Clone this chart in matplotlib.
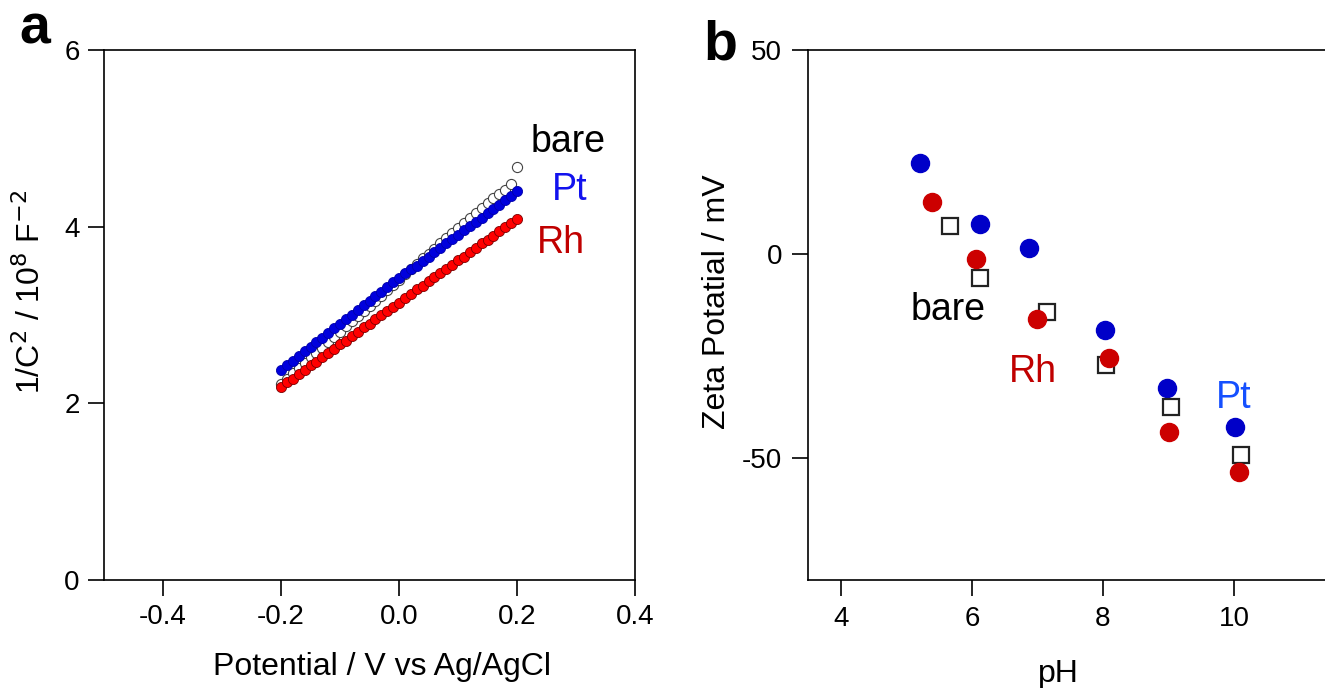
import matplotlib
matplotlib.use("Agg")
import matplotlib.pyplot as plt

plt.rcParams['font.family'] = ['Liberation Sans', 'DejaVu Sans']
plt.rcParams['axes.unicode_minus'] = False

# ---------------- Panel a data ----------------
potential = [-0.20, -0.19, -0.18, -0.17, -0.16, -0.15, -0.14, -0.13, -0.12, -0.11,
             -0.10, -0.09, -0.08, -0.07, -0.06, -0.05, -0.04, -0.03, -0.02, -0.01,
             0.00, 0.01, 0.02, 0.03, 0.04, 0.05, 0.06, 0.07, 0.08, 0.09,
             0.10, 0.11, 0.12, 0.13, 0.14, 0.15, 0.16, 0.17, 0.18, 0.19, 0.20]
inv_c2_bare = [2.22, 2.28, 2.34, 2.40, 2.46, 2.52, 2.57, 2.63, 2.69, 2.75,
               2.81, 2.87, 2.93, 2.99, 3.05, 3.10, 3.16, 3.22, 3.28, 3.34,
               3.40, 3.46, 3.52, 3.58, 3.64, 3.69, 3.75, 3.81, 3.87, 3.93,
               3.99, 4.04, 4.10, 4.16, 4.21, 4.27, 4.32, 4.37, 4.42, 4.48, 4.67]
inv_c2_pt = [2.38, 2.43, 2.48, 2.54, 2.59, 2.64, 2.69, 2.74, 2.80, 2.85,
             2.90, 2.95, 3.00, 3.06, 3.11, 3.16, 3.21, 3.26, 3.32, 3.37,
             3.42, 3.47, 3.52, 3.56, 3.61, 3.66, 3.71, 3.76, 3.81, 3.86,
             3.91, 3.96, 4.01, 4.05, 4.10, 4.15, 4.20, 4.25, 4.30, 4.35, 4.40]
inv_c2_rh = [2.19, 2.24, 2.28, 2.33, 2.38, 2.43, 2.47, 2.52, 2.57, 2.62,
             2.67, 2.71, 2.76, 2.81, 2.86, 2.90, 2.95, 3.00, 3.05, 3.09,
             3.14, 3.19, 3.24, 3.29, 3.33, 3.38, 3.43, 3.47, 3.52, 3.57,
             3.62, 3.66, 3.71, 3.76, 3.81, 3.85, 3.90, 3.95, 4.00, 4.04, 4.09]
a_xticks = [-0.4, -0.2, 0.0, 0.2, 0.4]
a_yticks = [0, 2, 4, 6]

# ---------------- Panel b data ----------------
ph_pt = [5.21, 6.12, 6.87, 8.03, 8.98, 10.02]
zeta_pt = [22.4, 7.2, 1.4, -18.8, -33.0, -42.5]
ph_rh = [5.39, 6.06, 7.00, 8.09, 9.01, 10.07]
zeta_rh = [12.6, -1.3, -16.0, -25.6, -43.8, -53.4]
ph_bare = [5.67, 6.12, 7.15, 8.05, 9.03, 10.10]
zeta_bare = [6.9, -6.0, -14.2, -27.3, -37.6, -49.3]
b_xticks = [4, 6, 8, 10]
b_yticks = [-50, 0, 50]

W, H = 1325, 688
fig = plt.figure(figsize=(W / 100, H / 100), dpi=100)

def frac(l, r, t, b):
    return [l / W, 1 - b / H, (r - l) / W, (b - t) / H]

tick_fs = 20
lab_fs = 23
txt_fs = 27

# ---------------- Panel a ----------------
ax = fig.add_axes(frac(104, 635, 50, 580))
ax.plot(potential, inv_c2_bare, 'o', ms=7.3, mfc='white', mec='#444444', mew=0.8, ls='none', zorder=2)
ax.plot(potential, inv_c2_pt, 'o', ms=7.3, mfc='#0000DD', mec='#0000AA', mew=0.6, ls='none', zorder=3)
ax.plot(potential, inv_c2_rh, 'o', ms=7.3, mfc='#FF0000', mec='#7a0000', mew=0.6, ls='none', zorder=4)
ax.set_xlim(-0.5, 0.4)
ax.set_ylim(0, 6)
ax.set_xticks(a_xticks)
ax.set_xticklabels([f"{v:.1f}" for v in a_xticks])
ax.set_yticks(a_yticks)
ax.tick_params(direction='out', length=11.5, width=1.2, labelsize=tick_fs, pad=6)
for s in ax.spines.values():
    s.set_linewidth(1.2)
ax.set_xlabel('Potential / V vs Ag/AgCl', fontsize=lab_fs)
ax.set_ylabel('1/C$^2$ / 10$^8$ F$^{-2}$', fontsize=lab_fs)
ax.xaxis.label.set_va('center')
ax.yaxis.label.set_va('center')
ax.xaxis.set_label_coords(0.524, -0.164)
ax.yaxis.set_label_coords(-0.139, 0.543)
ax.text(0.286, 4.96, 'bare', color='black', fontsize=txt_fs, ha='center', va='center')
ax.text(0.289, 4.42, 'Pt', color='#1212EE', fontsize=txt_fs, ha='center', va='center')
ax.text(0.274, 3.82, 'Rh', color='#C00000', fontsize=txt_fs, ha='center', va='center')
fig.text(35 / W, 1 - 30 / H, 'a', fontsize=40, fontweight='bold', ha='center', va='center')

# ---------------- Panel b ----------------
bx = fig.add_axes(frac(808, 1339, 50, 580))
bx.plot(ph_pt, zeta_pt, 'o', ms=13, mfc='#0000C8', mec='#0000C8', ls='none', zorder=3)
bx.plot(ph_rh, zeta_rh, 'o', ms=13, mfc='#CC0000', mec='#CC0000', ls='none', zorder=4)
bx.plot(ph_bare, zeta_bare, 's', ms=12, mfc='white', mec='#222222', mew=1.6, ls='none', zorder=3.5)
bx.set_xlim(3.5, 11.6)
bx.set_ylim(-80, 50)
bx.set_xticks(b_xticks)
bx.set_yticks(b_yticks)
bx.tick_params(direction='out', length=11.5, width=1.2, labelsize=tick_fs, pad=7)
for s in bx.spines.values():
    s.set_linewidth(1.2)
bx.set_xlabel('pH', fontsize=lab_fs)
bx.set_ylabel('Zeta Potatial / mV', fontsize=lab_fs)
bx.xaxis.label.set_va('center')
bx.yaxis.label.set_va('center')
bx.xaxis.set_label_coords(0.471, -0.177)
bx.yaxis.set_label_coords(-0.171, 0.525)
bx.text(5.63, -13.7, 'bare', color='black', fontsize=txt_fs, ha='center', va='center')
bx.text(6.93, -29.0, 'Rh', color='#C00000', fontsize=txt_fs, ha='center', va='center')
bx.text(10.0, -35.4, 'Pt', color='#1550FF', fontsize=txt_fs, ha='center', va='center')
fig.text(720 / W, 1 - 45 / H, 'b', fontsize=40, fontweight='bold', ha='center', va='center')

fig.savefig('out.png', dpi=100)
